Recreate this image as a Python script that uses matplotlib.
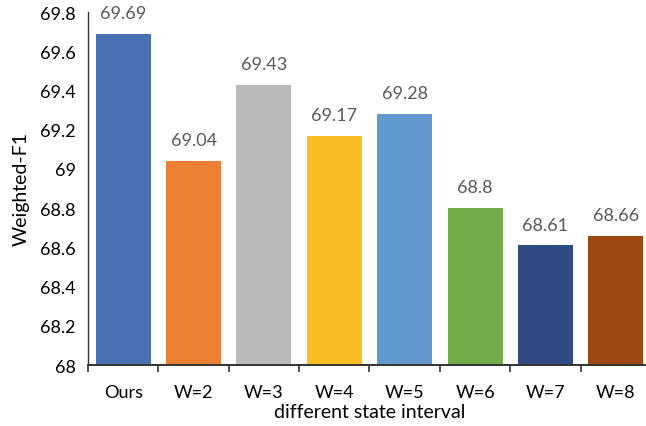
import matplotlib

matplotlib.use("Agg")
import matplotlib.pyplot as plt
import numpy as np

categories = ["Ours", "W=2", "W=3", "W=4", "W=5", "W=6", "W=7", "W=8"]
scores = [69.69, 69.04, 69.43, 69.17, 69.28, 68.8, 68.61, 68.66]
score_labels = ["69.69", "69.04", "69.43", "69.17", "69.28", "68.8", "68.61", "68.66"]
colors = ["#4870B5", "#EB7F32", "#B9B9B9", "#F8BE22",
          "#6199CE", "#72AD4A", "#2F4A82", "#9C4912"]
y_ticks = [68, 68.2, 68.4, 68.6, 68.8, 69, 69.2, 69.4, 69.6, 69.8]
y_tick_labels = ["68", "68.2", "68.4", "68.6", "68.8", "69", "69.2", "69.4", "69.6", "69.8"]

plt.rcParams["font.family"] = ["Lato", "DejaVu Sans"]

fig = plt.figure(figsize=(6.46, 4.27), dpi=100)
ax = fig.add_axes([88 / 646, 1 - 366 / 427, 563 / 646, (366 - 13) / 427])

x = np.arange(len(categories))
ax.bar(x, scores, width=0.78, color=colors)
ax.set_ylim(68, 69.8)
ax.set_xlim(-0.5, len(categories) - 0.5)

for xi, v, lab in zip(x, scores, score_labels):
    ax.text(xi, v + 0.065, lab, ha="center", va="bottom", fontsize=13, color="#595959")

ax.set_yticks(y_ticks)
ax.set_yticklabels(y_tick_labels, fontsize=13)
ax.tick_params(axis="y", length=0, pad=9)

ax.set_xticks(x)
ax.set_xticklabels(categories, fontsize=13)
ax.tick_params(axis="x", length=0, pad=14)
ax.set_xticks(np.arange(len(categories) + 1) - 0.5, minor=True)
ax.tick_params(axis="x", which="minor", length=5, width=1.2, color="#333333")

for side in ("top", "right"):
    ax.spines[side].set_visible(False)
for side in ("left", "bottom"):
    ax.spines[side].set_color("#333333")
ax.spines["left"].set_linewidth(1.0)
ax.spines["bottom"].set_linewidth(1.4)

ax.set_xlabel("different state interval", fontsize=14, labelpad=2)
ax.set_ylabel("Weighted-F1", fontsize=14, labelpad=7)

fig.savefig("out.png", dpi=100)
